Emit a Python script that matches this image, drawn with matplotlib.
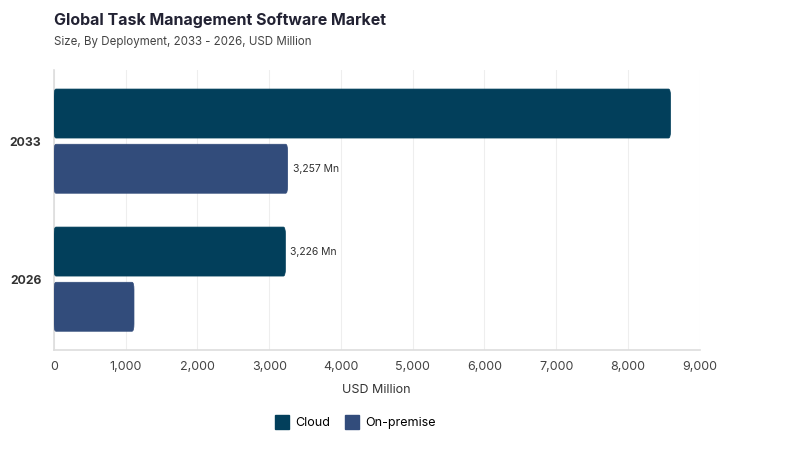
import matplotlib.pyplot as plt
import numpy as np
from matplotlib.patches import FancyBboxPatch
from matplotlib.lines import Line2D

plt.rcParams['font.family'] = ['Inter', 'DejaVu Sans']

years = ['2033', '2026']
cloud = [8595, 3226]
on_premise = [3257, 1115]
labels_on = {('on_premise', 0): '3,257 Mn', ('cloud', 1): '3,226 Mn'}
c_cloud = '#023f5b'
c_onprem = '#324c7b'

fig = plt.figure(figsize=(8, 4.5), dpi=100)
ax = fig.add_axes([0.0675, 0.222, 0.807, 0.622])

ypos = np.array([1, 0])
h = 0.355
off = 0.2


def rbar(x, yc, w, color):
    p = FancyBboxPatch((0, yc - h / 2), w, h,
                       boxstyle="round,pad=0,rounding_size=28",
                       mutation_aspect=0.0019,
                       fc=color, ec=color, lw=0.5, zorder=3)
    ax.add_patch(p)


for i, y in enumerate(ypos):
    rbar(0, y + off, cloud[i], c_cloud)
    rbar(0, y - off, on_premise[i], c_onprem)
    if ('cloud', i) in labels_on:
        ax.text(cloud[i] + 70, y + off, labels_on[('cloud', i)], va='center', ha='left',
                fontsize=7.5, color='#333333')
    if ('on_premise', i) in labels_on:
        ax.text(on_premise[i] + 70, y - off, labels_on[('on_premise', i)], va='center', ha='left',
                fontsize=7.5, color='#333333')

ax.set_xlim(0, 9000)
ax.set_ylim(-0.514, 1.514)
ax.set_xticks(np.arange(0, 9001, 1000))
ax.set_xticklabels([f'{v:,}' for v in range(0, 9001, 1000)], fontsize=9, color='#444444')
ax.set_yticks(ypos)
ax.set_yticklabels(years, fontsize=8.8, fontweight='bold', color='#333333')
ax.tick_params(axis='both', length=0, pad=8)
ax.tick_params(axis='y', pad=9)
ax.grid(axis='x', color='#eeeeee', lw=0.8, zorder=0)
for s in ['top', 'right']:
    ax.spines[s].set_visible(False)
ax.spines['left'].set_color('#dddddd')
ax.spines['bottom'].set_color('#dddddd')
ax.spines['left'].set_linewidth(1.2)
ax.spines['bottom'].set_linewidth(1.2)
ax.set_xlabel('USD Million', fontsize=9, color='#333333', labelpad=8)

fig.text(0.0675, 0.945, 'Global Task Management Software Market', fontsize=11.5,
         fontweight='bold', color='#222233')
fig.text(0.0675, 0.9, 'Size, By Deployment, 2033 - 2026, USD Million', fontsize=8.3, color='#444444')

handles = [Line2D([], [], marker='s', ls='', markersize=10, mfc=c_cloud, mec=c_cloud),
           Line2D([], [], marker='s', ls='', markersize=10, mfc=c_onprem, mec=c_onprem)]
fig.legend(handles, ['Cloud', 'On-premise'], loc='center', bbox_to_anchor=(0.444, 0.06),
           ncol=2, frameon=False, fontsize=9, handletextpad=0.4, columnspacing=1.2,
           handlelength=1.2)

fig.savefig('out.png', dpi=100)
